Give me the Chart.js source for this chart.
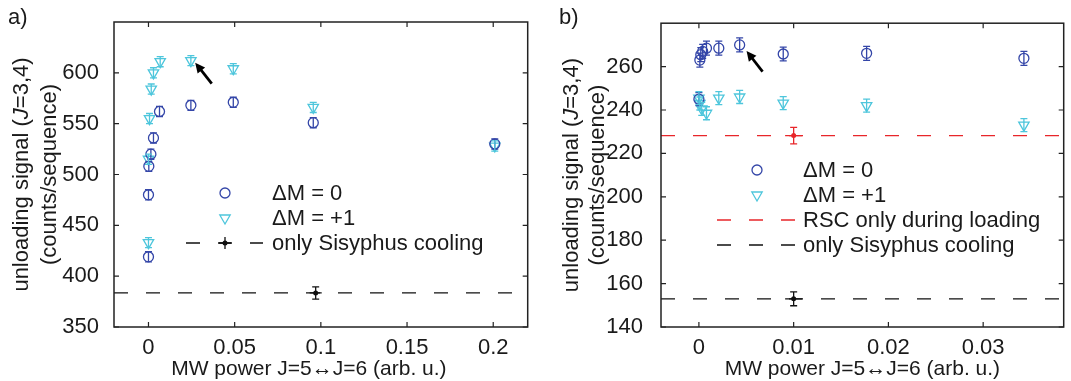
<!DOCTYPE html>
<html>
<head>
<meta charset="utf-8">
<script src="https://cdn.jsdelivr.net/npm/chart.js@4.4.1/dist/chart.umd.min.js"></script>
<style>
  html, body { margin: 0; padding: 0; background: #fff; }
  #wrap { position: relative; width: 1071px; height: 381px; }
  .panel { position: absolute; top: 0; height: 381px; }
  #pa { left: 0; width: 535px; }
  #pb { left: 535px; width: 536px; }
</style>
</head>
<body>
<div id="wrap">
  <div class="panel" id="pa"><canvas id="chartA"></canvas></div>
  <div class="panel" id="pb"><canvas id="chartB"></canvas></div>
</div>
<script>
// ---- panel a) data ----
const xRangeA = [-0.02, 0.22];
const yRangeA = [350, 650];
const xTicksA = [0, 0.05, 0.1, 0.15, 0.2];
const yTicksA = [350, 400, 450, 500, 550, 600];

const dm0A_x = [0, 0, 0.0002, 0.0014, 0.0029, 0.0064, 0.0246, 0.0492, 0.0956, 0.2009];
const dm0A_y = [419, 480, 508, 520, 536, 562, 568, 571, 551, 530];
const dm0A_err = [5, 5, 5, 5, 5, 5, 5, 5, 5, 5];

const dm1A_x = [0, 0, 0.0006, 0.0016, 0.0029, 0.0068, 0.0246, 0.0492, 0.0956, 0.2009];
const dm1A_y = [433, 515, 555, 584, 600, 611, 612, 604, 566, 528];
const dm1A_err = [5, 5, 5, 5, 5, 5, 5, 5, 5, 5];

const sisA_x = [0.097];
const sisA_y = [383.5];
const sisA_errX = [0.0035];
const sisA_errY = [6];

const arrowA = { from: [0.0367, 589.5], to: [0.0271, 609.9] };

// ---- panel b) data ----
const xRangeB = [-0.004, 0.0385];
const yRangeB = [140, 280];
const xTicksB = [0, 0.01, 0.02, 0.03];
const yTicksB = [140, 160, 180, 200, 220, 240, 260];

const dm0B_x = [0, 0.0001, 0.0002, 0.0004, 0.0008, 0.0021, 0.0043, 0.0089, 0.0177, 0.0343];
const dm0B_y = [245, 263, 265.5, 267, 268.5, 268.5, 270, 265.8, 266.1, 263.8];
const dm0B_err = [3, 3.2, 3.2, 3.2, 3.2, 3.2, 3.2, 3.2, 3.2, 3.2];

const dm1B_x = [0, 0.0001, 0.0003, 0.0008, 0.0021, 0.0043, 0.0089, 0.0177, 0.0343];
const dm1B_y = [245.5, 243, 240.5, 238.5, 245.5, 246, 243.2, 242, 233];
const dm1B_err = [3, 3, 3, 3, 3, 3, 3, 3, 3];

const rscB_x = [0.01];
const rscB_y = [228.2];
const rscB_errX = [0.0009];
const rscB_errY = [3.8];

const sisB_x = [0.01];
const sisB_y = [153];
const sisB_errX = [0.0009];
const sisB_errY = [3.2];

const arrowB = { from: [0.00672, 257.7], to: [0.00503, 267.2] };

// ---- styles ----
const FONT = '"Liberation Sans", Arial, Helvetica, sans-serif';
const TEXT = '#1a1a1a';
const C_DM0 = '#3446a8';
const C_DM1 = '#4ec6dc';
const C_RED = '#e8262a';
const C_BLK = '#111111';
const DASH = [14, 18];

function pts(xs, ys) {
    return xs.map((x, i) => ({ x: x, y: ys[i] }));
}

// error bars drawn through the scales
const errorBars = {
    id: 'errorBars',
    afterDatasetsDraw(chart) {
        const ctx = chart.ctx;
        const xs = chart.scales.x, ys = chart.scales.y;
        chart.data.datasets.forEach(ds => {
            if (!ds.errY && !ds.errX) return;
            ctx.save();
            ctx.strokeStyle = ds.borderColor;
            ctx.lineWidth = 1.3;
            const cap = 3.5;
            ds.data.forEach((p, j) => {
                const px = xs.getPixelForValue(p.x), py = ys.getPixelForValue(p.y);
                ctx.beginPath();
                if (ds.errY) {
                    const y1 = ys.getPixelForValue(p.y + ds.errY[j]);
                    const y2 = ys.getPixelForValue(p.y - ds.errY[j]);
                    ctx.moveTo(px, y1); ctx.lineTo(px, y2);
                    ctx.moveTo(px - cap, y1); ctx.lineTo(px + cap, y1);
                    ctx.moveTo(px - cap, y2); ctx.lineTo(px + cap, y2);
                }
                if (ds.errX) {
                    const x1 = xs.getPixelForValue(p.x - ds.errX[j]);
                    const x2 = xs.getPixelForValue(p.x + ds.errX[j]);
                    ctx.moveTo(x1, py); ctx.lineTo(x2, py);
                }
                ctx.stroke();
            });
            ctx.restore();
        });
    }
};

// box, inward ticks, titles, legend, arrow
const frame = {
    id: 'frame',
    afterDraw(chart, args, opts) {
        const ctx = chart.ctx;
        const a = chart.chartArea;
        const xs = chart.scales.x, ys = chart.scales.y;
        ctx.save();
        ctx.strokeStyle = '#222';
        ctx.lineWidth = 1.5;
        ctx.strokeRect(a.left, a.top, a.right - a.left, a.bottom - a.top);
        ctx.beginPath();
        xs.ticks.forEach(t => {
            const px = xs.getPixelForValue(t.value);
            ctx.moveTo(px, a.bottom); ctx.lineTo(px, a.bottom - 5);
            ctx.moveTo(px, a.top); ctx.lineTo(px, a.top + 5);
        });
        ys.ticks.forEach(t => {
            const py = ys.getPixelForValue(t.value);
            ctx.moveTo(a.left, py); ctx.lineTo(a.left + 5, py);
            ctx.moveTo(a.right, py); ctx.lineTo(a.right - 5, py);
        });
        ctx.lineWidth = 1.2;
        ctx.stroke();

        // arrow
        const ar = opts.arrow;
        const x0 = xs.getPixelForValue(ar.from[0]), y0 = ys.getPixelForValue(ar.from[1]);
        const x1 = xs.getPixelForValue(ar.to[0]), y1 = ys.getPixelForValue(ar.to[1]);
        const ang = Math.atan2(y1 - y0, x1 - x0);
        ctx.strokeStyle = '#000';
        ctx.fillStyle = '#000';
        ctx.lineWidth = 2.8;
        ctx.beginPath();
        ctx.moveTo(x0, y0);
        ctx.lineTo(x1 - 7 * Math.cos(ang), y1 - 7 * Math.sin(ang));
        ctx.stroke();
        ctx.beginPath();
        ctx.moveTo(x1, y1);
        ctx.lineTo(x1 - 11 * Math.cos(ang - 0.45), y1 - 11 * Math.sin(ang - 0.45));
        ctx.lineTo(x1 - 11 * Math.cos(ang + 0.45), y1 - 11 * Math.sin(ang + 0.45));
        ctx.closePath();
        ctx.fill();

        ctx.fillStyle = TEXT;
        // panel letter
        ctx.font = '22px ' + FONT;
        ctx.textAlign = 'left';
        ctx.textBaseline = 'middle';
        ctx.fillText(opts.letter, opts.letterX, 18);

        // x title
        ctx.font = '21px ' + FONT;
        ctx.textAlign = 'center';
        ctx.fillText('MW power J=5\u2194J=6 (arb. u.)', (a.left + a.right) / 2 + opts.xTitleShift, 369);

        // y title, two lines with italic J
        ctx.font = '22px ' + FONT;
        const cy = (a.top + a.bottom) / 2;
        const parts = [['unloading signal (', false], ['J', true], ['=3,4)', false]];
        ctx.save();
        ctx.translate(opts.yTitleX[0], cy);
        ctx.rotate(-Math.PI / 2);
        ctx.textAlign = 'left';
        let w = 0;
        parts.forEach(p => { ctx.font = (p[1] ? 'italic ' : '') + '22px ' + FONT; w += ctx.measureText(p[0]).width; });
        let cx = -w / 2;
        parts.forEach(p => {
            ctx.font = (p[1] ? 'italic ' : '') + '22px ' + FONT;
            ctx.fillText(p[0], cx, 0);
            cx += ctx.measureText(p[0]).width;
        });
        ctx.restore();
        ctx.save();
        ctx.translate(opts.yTitleX[1], cy);
        ctx.rotate(-Math.PI / 2);
        ctx.textAlign = 'center';
        ctx.font = '22px ' + FONT;
        ctx.fillText('(counts/sequence)', 0, 0);
        ctx.restore();

        // legend
        const lg = opts.legend;
        ctx.textAlign = 'left';
        ctx.textBaseline = 'middle';
        lg.items.forEach((it, k) => {
            const y = lg.y + k * 25;
            ctx.font = '22px ' + FONT;
            ctx.fillStyle = TEXT;
            ctx.fillText(it.text, lg.textX, y + 1);
            if (it.kind === 'point') {
                ctx.save();
                ctx.strokeStyle = it.color;
                ctx.fillStyle = 'rgba(0,0,0,0)';
                ctx.lineWidth = 1.3;
                Chart.helpers.drawPoint(ctx, {
                    pointStyle: it.style, radius: it.radius, rotation: it.rotation || 0, borderWidth: 1.3
                }, lg.markX, y);
                ctx.restore();
            }
            if (it.kind === 'line') {
                ctx.save();
                ctx.strokeStyle = it.color;
                ctx.lineWidth = 1.3;
                ctx.setLineDash(DASH);
                ctx.beginPath();
                ctx.moveTo(lg.lineX[0], y); ctx.lineTo(lg.lineX[1], y);
                ctx.stroke();
                if (it.errbar) {
                    ctx.setLineDash([]);
                    ctx.beginPath();
                    ctx.moveTo(lg.markX, y - 6); ctx.lineTo(lg.markX, y + 6);
                    ctx.moveTo(lg.markX - 6, y); ctx.lineTo(lg.markX + 6, y);
                    ctx.stroke();
                    ctx.fillStyle = it.color;
                    ctx.beginPath();
                    ctx.arc(lg.markX, y, 2.5, 0, Math.PI * 2);
                    ctx.fill();
                }
                ctx.restore();
            }
        });
        ctx.restore();
    }
};

function scatterSet(xs, ys, err, color, style) {
    return {
        type: 'scatter',
        data: pts(xs, ys),
        errY: err,
        borderColor: color,
        backgroundColor: 'rgba(0,0,0,0)',
        pointStyle: style,
        pointRotation: style === 'triangle' ? 180 : 0,
        pointRadius: style === 'triangle' ? 6 : 5,
        pointBorderWidth: 1.3,
        showLine: false
    };
}

function hLine(xr, yv, color) {
    return {
        type: 'line',
        data: [{ x: xr[0], y: yv }, { x: xr[1], y: yv }],
        borderColor: color,
        borderWidth: 1.3,
        borderDash: DASH,
        pointRadius: 0,
        fill: false
    };
}

function refPoint(xs, ys, ex, ey, color) {
    return {
        type: 'scatter',
        data: pts(xs, ys),
        errX: ex,
        errY: ey,
        borderColor: color,
        backgroundColor: color,
        pointStyle: 'circle',
        pointRadius: 2.5,
        pointBorderWidth: 0
    };
}

function makeChart(id, cfg) {
    return new Chart(document.getElementById(id), {
        data: { datasets: cfg.datasets },
        options: {
            responsive: true,
            maintainAspectRatio: false,
            animation: false,
            layout: { padding: { top: 22, right: cfg.padRight, left: 0, bottom: 0 } },
            plugins: {
                legend: { display: false },
                tooltip: { enabled: false },
                frame: cfg.frame
            },
            scales: {
                x: {
                    type: 'linear',
                    min: cfg.xRange[0],
                    max: cfg.xRange[1],
                    grid: { display: false },
                    border: { display: false },
                    afterBuildTicks: s => { s.ticks = cfg.xTicks.map(v => ({ value: v })); },
                    afterFit: s => { s.height = 54; },
                    ticks: {
                        padding: 0,
                        color: TEXT,
                        font: { family: FONT, size: 22 },
                        maxRotation: 0,
                        callback: v => String(v)
                    }
                },
                y: {
                    type: 'linear',
                    min: cfg.yRange[0],
                    max: cfg.yRange[1],
                    grid: { display: false },
                    border: { display: false },
                    afterBuildTicks: s => { s.ticks = cfg.yTicks.map(v => ({ value: v })); },
                    afterFit: s => { s.width = cfg.yWidth; },
                    ticks: {
                        padding: cfg.yPad,
                        color: TEXT,
                        font: { family: FONT, size: 22 },
                        callback: v => String(v)
                    }
                }
            }
        },
        plugins: [errorBars, frame]
    });
}

makeChart('chartA', {
    xRange: xRangeA, yRange: yRangeA, xTicks: xTicksA, yTicks: yTicksA,
    yWidth: 114, yPad: 7, padRight: 7,
    datasets: [
        hLine(xRangeA, sisA_y[0], C_BLK),
        refPoint(sisA_x, sisA_y, sisA_errX, sisA_errY, C_BLK),
        scatterSet(dm0A_x, dm0A_y, dm0A_err, C_DM0, 'circle'),
        scatterSet(dm1A_x, dm1A_y, dm1A_err, C_DM1, 'triangle')
    ],
    frame: {
        letter: 'a)', letterX: 8, xTitleShift: -12, yTitleX: [22, 50],
        arrow: arrowA,
        legend: {
            y: 193, markX: 225, textX: 272, lineX: [186, 263],
            items: [
                { kind: 'point', text: '\u0394M = 0', color: C_DM0, style: 'circle', radius: 5 },
                { kind: 'point', text: '\u0394M = +1', color: C_DM1, style: 'triangle', radius: 6, rotation: 180 },
                { kind: 'line', text: 'only Sisyphus cooling', color: C_BLK, errbar: true }
            ]
        }
    }
});

makeChart('chartB', {
    xRange: xRangeB, yRange: yRangeB, xTicks: xTicksB, yTicks: yTicksB,
    yWidth: 126, yPad: 10, padRight: 1,
    datasets: [
        hLine(xRangeB, rscB_y[0], C_RED),
        hLine(xRangeB, sisB_y[0], C_BLK),
        refPoint(rscB_x, rscB_y, rscB_errX, rscB_errY, C_RED),
        refPoint(sisB_x, sisB_y, sisB_errX, sisB_errY, C_BLK),
        scatterSet(dm0B_x, dm0B_y, dm0B_err, C_DM0, 'circle'),
        scatterSet(dm1B_x, dm1B_y, dm1B_err, C_DM1, 'triangle')
    ],
    frame: {
        letter: 'b)', letterX: 24, xTitleShift: 0, yTitleX: [37, 63],
        arrow: arrowB,
        legend: {
            y: 170, markX: 222, textX: 268, lineX: [182, 260],
            items: [
                { kind: 'point', text: '\u0394M = 0', color: C_DM0, style: 'circle', radius: 5 },
                { kind: 'point', text: '\u0394M = +1', color: C_DM1, style: 'triangle', radius: 6, rotation: 180 },
                { kind: 'line', text: 'RSC only during loading', color: C_RED },
                { kind: 'line', text: 'only Sisyphus cooling', color: C_BLK }
            ]
        }
    }
});
</script>
</body>
</html>
